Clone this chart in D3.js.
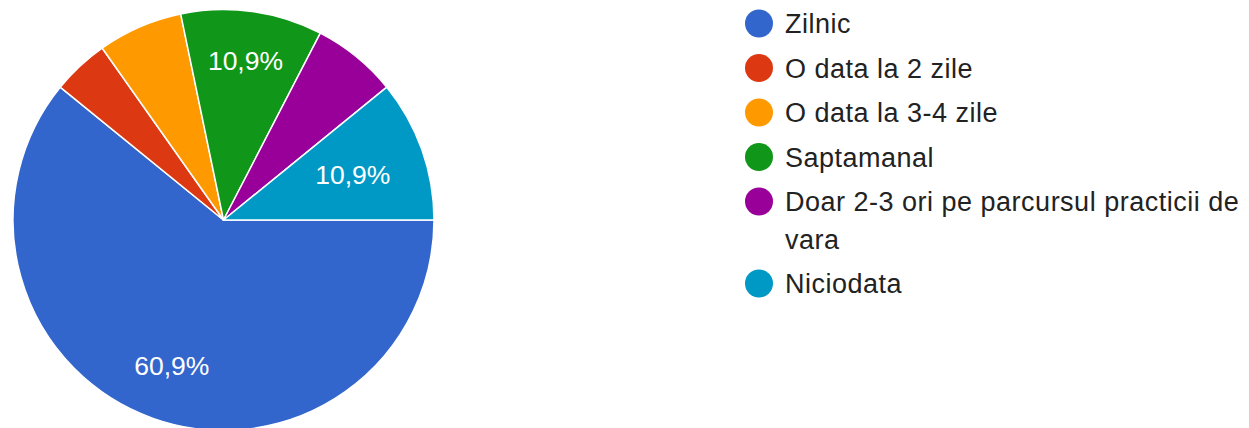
<!DOCTYPE html>
<html>
<head>
<meta charset="utf-8">
<script src="https://cdn.jsdelivr.net/npm/d3@7"></script>
<style>
  html, body { margin: 0; padding: 0; background: #fff; }
  svg { display: block; }
</style>
</head>
<body>
<svg id="chart" width="1249" height="428"></svg>
<script>
// answers from the form (46 replies)
var categories = ["Zilnic", "O data la 2 zile", "O data la 3-4 zile", "Saptamanal",
                  "Doar 2-3 ori pe parcursul practicii de vara", "Niciodata"];
var counts = [28, 2, 3, 5, 3, 5];
var colors = ["#3366cc", "#dc3912", "#ff9900", "#109618", "#990099", "#0099c6"];

var W = 1249, H = 428;
var cx = 223.5, cy = 220, R = 210.5;
var fontFam = "'Liberation Sans', Arial, sans-serif";
var fs = 26.5;     // slice labels
var legFs = 27;    // legend

var svg = d3.select("#chart");
var total = d3.sum(counts);
var fmt = function(v) { return d3.format(".1f")(v * 100).replace(".", ",") + "%"; };

var pie = d3.pie().sort(null).startAngle(Math.PI / 2).endAngle(Math.PI / 2 + 2 * Math.PI);
var arcs = pie(counts);
var arc = d3.arc().innerRadius(0).outerRadius(R);

var g = svg.append("g").attr("transform", "translate(" + cx + "," + cy + ")");

g.selectAll("path.slice")
  .data(arcs)
  .enter()
  .append("path")
  .attr("class", "slice")
  .attr("d", arc)
  .attr("fill", function(d, i) { return colors[i]; })
  .attr("stroke", "#fff")
  .attr("stroke-width", 1.5)
  .attr("stroke-linejoin", "round");

// labels only on the slices that have room for them
var big = arcs.filter(function(d) { return d.value / total > 0.1; });
g.selectAll("text.pct")
  .data(big)
  .enter()
  .append("text")
  .attr("class", "pct")
  .attr("text-anchor", "middle")
  .attr("fill", "#fff")
  .style("font-family", fontFam)
  .style("font-size", fs + "px")
  .text(function(d) { return fmt(d.value / total); })
  .each(function(d) {
    var t = d3.select(this);
    var a = (d.startAngle + d.endAngle) / 2;
    var sx = Math.sin(a), sy = -Math.cos(a);
    var hw = this.getComputedTextLength() / 2, hh = fs * 0.716 / 2;
    var ext = Math.abs(sx) * hw + Math.abs(sy) * hh;
    var dist = R * 0.835 - ext;
    t.attr("x", sx * dist).attr("y", sy * dist + hh);
  });

// legend
var lx = 759, ly = 23.5, rowH = 44.5, lineH = 37.5, maxW = 460;
var leg = svg.append("g");
var y = ly;
categories.forEach(function(name, i) {
  leg.append("circle")
    .attr("cx", lx).attr("cy", y).attr("r", 14)
    .attr("fill", colors[i]);
  var txt = leg.append("text")
    .attr("x", lx + 26).attr("y", y + 9.6)
    .attr("fill", "#222")
    .style("font-family", fontFam)
    .style("font-size", legFs + "px")
    .style("letter-spacing", "0.5px");
  // simple word wrap
  var words = name.split(" "), line = [], lines = 0;
  var ts = txt.append("tspan").attr("x", lx + 26).attr("dy", 0);
  words.forEach(function(w) {
    line.push(w);
    ts.text(line.join(" "));
    if (ts.node().getComputedTextLength() > maxW && line.length > 1) {
      line.pop();
      ts.text(line.join(" "));
      line = [w];
      lines++;
      ts = txt.append("tspan").attr("x", lx + 26).attr("dy", lineH).text(w);
    }
  });
  y += rowH + lines * lineH;
});
</script>
</body>
</html>
